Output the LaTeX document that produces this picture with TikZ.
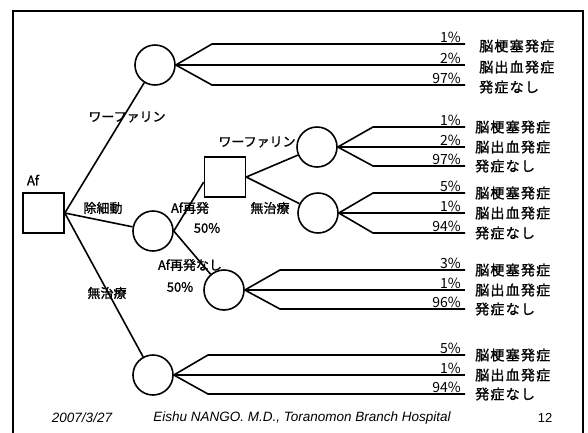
\documentclass[tikz,border=0pt]{standalone}
\usepackage{fontspec}
\setmainfont{Noto Sans CJK JP}[AutoFakeBold=1.2]
\newfontfamily\footfont{Liberation Sans}
\begin{document}
\begin{tikzpicture}[x=1pt,y=-1pt,
  chance/.style={circle,draw,line width=1.6pt,minimum size=40pt,inner sep=0pt},
  decision/.style={rectangle,draw,line width=1.6pt,minimum width=41pt,minimum height=40pt,inner sep=0pt},
  edge/.style={line width=1.6pt},
  lbl/.style={font=\fontsize{13}{13}\selectfont\bfseries,inner sep=0pt},
  pct/.style={font=\fontsize{14}{14}\selectfont,anchor=base east,inner sep=0pt},
  outc/.style={font=\fontsize{14}{14}\selectfont\bfseries\addfontfeature{LetterSpace=9},anchor=west,inner sep=0pt},
  foot/.style={font=\footfont\itshape\fontsize{13.5}{13}\selectfont,inner sep=0pt}]
\useasboundingbox (0,0) rectangle (588,432);
\draw[line width=2pt] (13,440) -- (13,11) -- (583,11) -- (583,440);

% decision nodes
\node[decision] (af) at (43.5,213) {};
\node[lbl] (aflbl) at (33,180) {Af};
\node[decision] (sq2) at (225,177) {};

% chance nodes
\node[chance] (c1) at (155,65) {};
\node[chance] (c2) at (153,231) {};
\node[chance] (c3) at (317,147) {};
\node[chance] (c4) at (318,213) {};
\node[chance] (c5) at (224,290) {};
\node[chance] (c6) at (153,375) {};

% main edges
\draw[edge] (af.east) -- (c1);
\draw[edge] (af.east) -- (c2);
\draw[edge] (af.east) -- (c6);
\draw[edge] (c2.east) -- ([yshift=-5pt]sq2.west);
\draw[edge] (c2.east) -- (c5);
\draw[edge] (sq2.east) -- (c3);
\draw[edge] (sq2.east) -- (c4);

% edge labels
\node[lbl] (l1) at (127,117) {ワーファリン};
\node[lbl] (l2) at (103,208) {除細動};
\node[lbl] (l3) at (107,293) {無治療};
\node[lbl] (l4) at (190,208) {Af再発};
\node[lbl] (l5) at (207,228) {50\%};
\node[lbl] (l6) at (190,265) {Af再発なし};
\node[lbl] (l7) at (180,287) {50\%};
\node[lbl] (l8) at (257,142) {ワーファリン};
\node[lbl] (l9) at (270,208) {無治療};

% outcome branches
\newcommand{\outcomes}[9]{%
  \coordinate (#1a) at (#2,#3);
  \coordinate (#1b) at (#2,#4);
  \coordinate (#1c) at (#2,#5);
  \coordinate (#1ea) at (465,#3);
  \coordinate (#1eb) at (465,#4);
  \coordinate (#1ec) at (465,#5);
  \draw[edge] (#1.east) -- (#1a) -- (#1ea);
  \draw[edge] (#1.east) -- (#1eb);
  \draw[edge] (#1.east) -- (#1c) -- (#1ec);
  \node[pct] (#1pa) at ([xshift=-4pt,yshift=2pt]#1ea) {#6};
  \node[pct] (#1pb) at ([xshift=-4pt,yshift=2pt]#1eb) {#7};
  \node[pct] (#1pc) at ([xshift=-4pt,yshift=2pt]#1ec) {#8};
  \node[outc] (#1oa) at ([yshift=-\outdy pt]#9,#3) {脳梗塞発症};
  \node[outc] (#1ob) at ([yshift=-\outdy pt]#9,#4) {脳出血発症};
  \node[outc] (#1oc) at ([yshift=-\outdy pt]#9,#5) {発症なし};
}
\def\outdy{2}
\outcomes{c1}{212}{44}{65}{85}{1\%}{2\%}{97\%}{479}
\def\outdy{0}
\outcomes{c3}{373}{127}{147}{166}{1\%}{2\%}{97\%}{475}
\outcomes{c4}{373}{193}{213}{233}{5\%}{1\%}{94\%}{475}
\outcomes{c5}{280}{270}{290}{309}{3\%}{1\%}{96\%}{475}
\outcomes{c6}{208}{355}{375}{394}{5\%}{1\%}{94\%}{475}

% footer
\node[foot] (date) at (82,418) {2007/3/27};
\node[foot] (author) at (302,418) {Eishu NANGO. M.D., Toranomon Branch Hospital};
\node[foot,font=\footfont\fontsize{13}{13}\selectfont] (page) at (545,418) {12};
\end{tikzpicture}
\end{document}
